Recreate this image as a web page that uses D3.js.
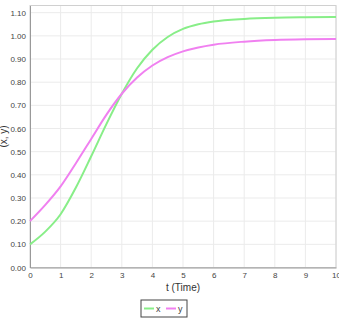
<!DOCTYPE html>
<html>
<head>
<meta charset="utf-8">
<script src="https://cdn.jsdelivr.net/npm/d3@7"></script>
<style>
  body { margin: 0; background: #fff; }
  svg { display: block; }
</style>
</head>
<body>
<svg id="chart" width="339" height="321"></svg>
<script>
// time points and the two series
const times = [0, 0.5, 1, 1.5, 2, 2.5, 3, 3.5, 4, 4.5, 5, 5.5, 6, 7, 8, 9, 10];
const xValues = [0.10, 0.155, 0.23, 0.345, 0.48, 0.62, 0.75, 0.86, 0.94, 0.995, 1.03, 1.05, 1.062, 1.073, 1.078, 1.080, 1.081];
const yValues = [0.20, 0.27, 0.35, 0.45, 0.555, 0.66, 0.75, 0.82, 0.872, 0.908, 0.933, 0.95, 0.962, 0.975, 0.982, 0.985, 0.986];
const xTicks = [0, 1, 2, 3, 4, 5, 6, 7, 8, 9, 10];
const yTicks = [0, 0.1, 0.2, 0.3, 0.4, 0.5, 0.6, 0.7, 0.8, 0.9, 1.0, 1.1];
const seriesNames = ["x", "y"];
const seriesColors = ["#88ee88", "#f080f0"];

const margin = {top: 5.5, right: 3, bottom: 53.5, left: 30};
const width = 339 - margin.left - margin.right;
const height = 321 - margin.top - margin.bottom;

const svg = d3.select("#chart");
const g = svg.append("g")
  .attr("transform", "translate(" + margin.left + "," + margin.top + ")");

const x = d3.scaleLinear().domain([0, 10]).range([0, width]);
const y = d3.scaleLinear().domain([0, 1.131]).range([height, 0]);

// grid
g.append("g").selectAll("line")
  .data(xTicks.slice(1))
  .enter().append("line")
  .attr("x1", d => x(d)).attr("x2", d => x(d))
  .attr("y1", 0).attr("y2", height)
  .attr("stroke", "#ebebeb");
g.append("g").selectAll("line")
  .data(yTicks.slice(1))
  .enter().append("line")
  .attr("x1", 0).attr("x2", width)
  .attr("y1", d => y(d)).attr("y2", d => y(d))
  .attr("stroke", "#ebebeb");

// frame
g.append("rect")
  .attr("x", 0).attr("y", 0)
  .attr("width", width).attr("height", height)
  .attr("fill", "none")
  .attr("stroke", "#d0d0d0");

// axes
const xAxis = g.append("g")
  .attr("transform", "translate(0," + height + ")")
  .call(d3.axisBottom(x).tickValues(xTicks).tickSize(0).tickPadding(5).tickFormat(d3.format("d")));
const yAxis = g.append("g")
  .call(d3.axisLeft(y).tickValues(yTicks).tickSize(0).tickPadding(4).tickFormat(d3.format(".2f")));
[xAxis, yAxis].forEach(a => {
  a.select(".domain").attr("stroke", "#999");
  a.selectAll("text")
    .style("font-family", "Liberation Sans, Arial, sans-serif")
    .style("font-size", "8px")
    .attr("fill", "#444");
});

// lines
const line = d3.line()
  .x((d, i) => x(times[i]))
  .y(d => y(d))
  .curve(d3.curveMonotoneX);

[xValues, yValues].forEach((vals, i) => {
  g.append("path")
    .datum(vals)
    .attr("fill", "none")
    .attr("stroke", seriesColors[i])
    .attr("stroke-width", 2)
    .attr("d", line);
});

// axis labels
svg.append("text")
  .attr("x", margin.left + width / 2)
  .attr("y", 291)
  .attr("text-anchor", "middle")
  .style("font-family", "Liberation Sans, Arial, sans-serif")
  .style("font-size", "10px")
  .attr("fill", "#333")
  .text("t (Time)");

svg.append("text")
  .attr("transform", "translate(7," + (margin.top + height / 2) + ") rotate(-90)")
  .attr("text-anchor", "middle")
  .style("font-family", "Liberation Sans, Arial, sans-serif")
  .style("font-size", "10px")
  .attr("fill", "#333")
  .text("(x, y)");

// legend
const legend = svg.append("g").attr("transform", "translate(141,300)");
legend.append("rect")
  .attr("width", 46).attr("height", 17)
  .attr("fill", "#fff")
  .attr("stroke", "#444");
seriesNames.forEach((name, i) => {
  const lg = legend.append("g").attr("transform", "translate(" + (3 + i * 22) + ",0)");
  lg.append("line")
    .attr("x1", 0).attr("x2", 10)
    .attr("y1", 8.5).attr("y2", 8.5)
    .attr("stroke", seriesColors[i])
    .attr("stroke-width", 2);
  lg.append("text")
    .attr("x", 12).attr("y", 12)
    .style("font-family", "Liberation Sans, Arial, sans-serif")
    .style("font-size", "9px")
    .attr("fill", "#444")
    .text(name);
});
</script>
</body>
</html>
